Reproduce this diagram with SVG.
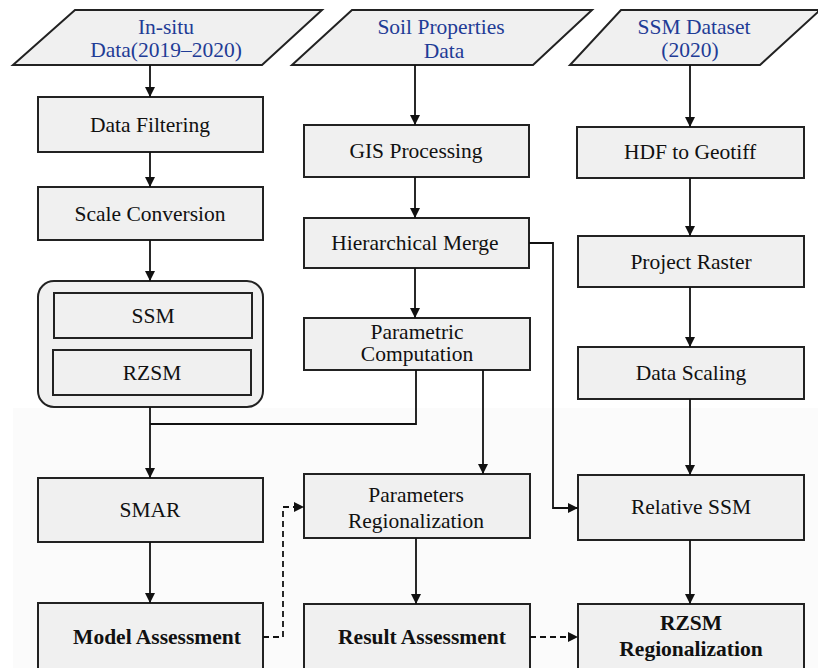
<svg xmlns="http://www.w3.org/2000/svg" width="818" height="668" viewBox="0 0 818 668">
<defs>
<marker id="ah" viewBox="0 0 10 10" refX="10" refY="5" markerWidth="10" markerHeight="10" markerUnits="userSpaceOnUse" orient="auto">
<path d="M0,0 L10,5 L0,10 z" fill="#111"/>
</marker>
<style>
.box{fill:#f0f0f0;stroke:#222;stroke-width:2}
.para{fill:#f0f0f0;stroke:#222;stroke-width:2}
.t{font-family:"Liberation Serif","Times New Roman",serif;font-size:21.5px;fill:#111;text-anchor:middle}
.b{font-weight:bold}
.blue{fill:#1f3c96}
.c{fill:none;stroke:#111;stroke-width:1.8}
.d{stroke-dasharray:6 4}
</style>
</defs>
<rect x="0" y="0" width="818" height="668" fill="#ffffff"/>
<rect x="13" y="408" width="805" height="260" fill="#fbfbfb"/>

<g id="in-situ">
<polygon class="para" points="75,10 322,10 262,65 13,65"/>
<text class="t blue" x="166" y="34">In-situ</text>
<text class="t blue" x="166" y="57">Data(2019–2020)</text>
</g>
<g id="soil-properties">
<polygon class="para" points="352,10 592,10 533,65 292,65"/>
<text class="t blue" x="441" y="34">Soil Properties</text>
<text class="t blue" x="444" y="58">Data</text>
</g>
<g id="ssm-dataset">
<polygon class="para" points="621,10 818,10 818,12 760,65 570,65"/>
<text class="t blue" x="694" y="34">SSM Dataset</text>
<text class="t blue" x="690" y="57">(2020)</text>
</g>

<g id="data-filtering">
<rect class="box" x="38" y="97" width="225" height="55"/>
<text class="t" x="150" y="132">Data Filtering</text>
</g>
<g id="scale-conversion">
<rect class="box" x="38" y="187" width="225" height="53"/>
<text class="t" x="150" y="221">Scale Conversion</text>
</g>
<g id="ssm-rzsm-group">
<rect class="box" x="38" y="281" width="225" height="126" rx="16" ry="16"/>
<g id="ssm">
<rect class="box" x="54" y="293" width="198" height="45"/>
<text class="t" x="153" y="323">SSM</text>
</g>
<g id="rzsm">
<rect class="box" x="53" y="350" width="198" height="45"/>
<text class="t" x="152" y="380">RZSM</text>
</g>
</g>
<g id="smar">
<rect class="box" x="38" y="478" width="225" height="64"/>
<text class="t" x="150" y="517">SMAR</text>
</g>
<g id="model-assessment">
<rect class="box" x="38" y="603" width="225" height="75"/>
<text class="t b" x="157" y="644">Model Assessment</text>
</g>

<g id="gis-processing">
<rect class="box" x="304" y="125" width="225" height="52"/>
<text class="t" x="416" y="158">GIS  Processing</text>
</g>
<g id="hierarchical-merge">
<rect class="box" x="304" y="218" width="225" height="50"/>
<text class="t" x="415" y="250">Hierarchical Merge</text>
</g>
<g id="parametric-computation">
<rect class="box" x="304" y="318" width="226" height="52"/>
<text class="t" x="417" y="339">Parametric</text>
<text class="t" x="417" y="361">Computation</text>
</g>
<g id="parameters-regionalization">
<rect class="box" x="304" y="474" width="226" height="64"/>
<text class="t" x="416" y="502">Parameters</text>
<text class="t" x="416" y="528">Regionalization</text>
</g>
<g id="result-assessment">
<rect class="box" x="304" y="604" width="226" height="74"/>
<text class="t b" x="422" y="644">Result Assessment</text>
</g>

<g id="hdf-to-geotiff">
<rect class="box" x="577" y="127" width="227" height="51"/>
<text class="t" x="690" y="159">HDF to  Geotiff</text>
</g>
<g id="project-raster">
<rect class="box" x="578" y="236" width="226" height="51"/>
<text class="t" x="691" y="269">Project Raster</text>
</g>
<g id="data-scaling">
<rect class="box" x="578" y="347" width="226" height="52"/>
<text class="t" x="691" y="380">Data Scaling</text>
</g>
<g id="relative-ssm">
<rect class="box" x="578" y="475" width="226" height="65"/>
<text class="t" x="691" y="514">Relative SSM</text>
</g>
<g id="rzsm-regionalization">
<rect class="box" x="578" y="604" width="226" height="74"/>
<text class="t b" x="691" y="630">RZSM</text>
<text class="t b" x="691" y="656">Regionalization</text>
</g>

<g id="connectors">
<line class="c" x1="150" y1="65" x2="150" y2="97" marker-end="url(#ah)"/>
<line class="c" x1="150" y1="152" x2="150" y2="187" marker-end="url(#ah)"/>
<line class="c" x1="150" y1="240" x2="150" y2="281" marker-end="url(#ah)"/>
<line class="c" x1="150" y1="407" x2="150" y2="478" marker-end="url(#ah)"/>
<polyline class="c" points="416,370 416,424 150,424"/>
<line class="c" x1="150" y1="542" x2="150" y2="603" marker-end="url(#ah)"/>

<line class="c" x1="415" y1="65" x2="415" y2="125" marker-end="url(#ah)"/>
<line class="c" x1="415" y1="177" x2="415" y2="218" marker-end="url(#ah)"/>
<line class="c" x1="415" y1="268" x2="415" y2="318" marker-end="url(#ah)"/>
<line class="c" x1="483" y1="370" x2="483" y2="474" marker-end="url(#ah)"/>
<polyline class="c" points="529,243 553,243 553,508 578,508" marker-end="url(#ah)"/>
<line class="c" x1="416" y1="538" x2="416" y2="604" marker-end="url(#ah)"/>

<line class="c" x1="690" y1="65" x2="690" y2="127" marker-end="url(#ah)"/>
<line class="c" x1="690" y1="178" x2="690" y2="236" marker-end="url(#ah)"/>
<line class="c" x1="690" y1="287" x2="690" y2="347" marker-end="url(#ah)"/>
<line class="c" x1="690" y1="399" x2="690" y2="475" marker-end="url(#ah)"/>
<line class="c" x1="690" y1="540" x2="690" y2="604" marker-end="url(#ah)"/>

<polyline class="c d" points="263,637 283,637 283,507 304,507" marker-end="url(#ah)"/>
<line class="c d" x1="530" y1="637" x2="578" y2="637" marker-end="url(#ah)"/>
</g>
</svg>
